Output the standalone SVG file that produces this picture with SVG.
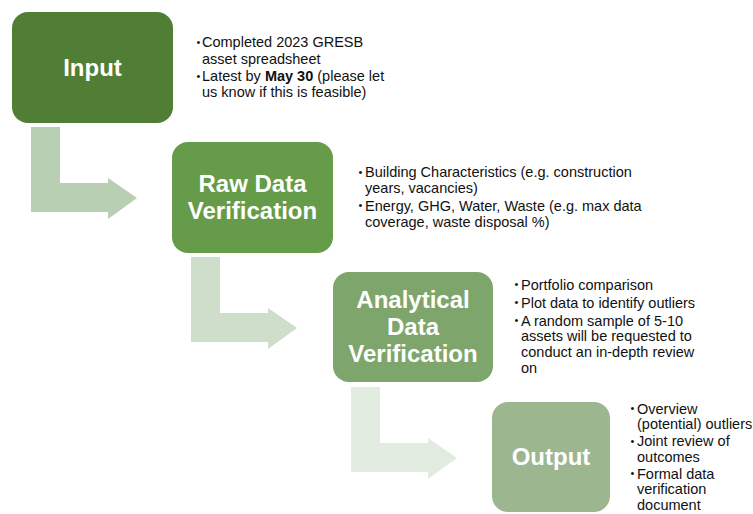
<svg xmlns="http://www.w3.org/2000/svg" width="753" height="514" viewBox="0 0 753 514">
<style>
.box-label{font-family:"Liberation Sans",Arial,sans-serif;font-size:24px;font-weight:bold;fill:#ffffff;text-anchor:middle}
.bullets{font-family:"Liberation Sans",Arial,sans-serif;font-size:14.5px;fill:#111111}
.dot{font-size:11px}
.b{font-weight:bold}
</style>
<rect width="753" height="514" fill="#ffffff"/>
<g id="connectors">
<path id="arrow1" d="M31,127 H60 V183 H108 V178 L137,198 L108,219 V212 H31 Z" fill="#B9CFB4"/>
<path id="arrow2" d="M191,257 H220 V313 H268 V308 L297,328 L268,349 V342 H191 Z" fill="#CEDECA"/>
<path id="arrow3" d="M351,387 H380 V443 H428 V438 L457,458 L428,479 V472 H351 Z" fill="#E2EBDF"/>
</g>
<g id="node-input">
<rect x="12" y="12" width="161" height="111" rx="16" fill="#507E34"/>
<text class="box-label" x="92.5" y="76">Input</text>
</g>
<g id="node-input-notes" class="bullets">
<text class="dot" x="196.5" y="45.5">•</text><text x="202" y="47">Completed 2023 GRESB</text>
<text x="202" y="63.5">asset spreadsheet</text>
<text class="dot" x="196.5" y="79.5">•</text><text x="202" y="81">Latest by <tspan class="b">May 30</tspan> (please let</text>
<text x="202" y="97">us know if this is feasible)</text>
</g>
<g id="node-raw">
<rect x="172" y="142" width="161" height="111" rx="16" fill="#659B49"/>
<text class="box-label" x="252.5" y="192">Raw Data</text>
<text class="box-label" x="252.5" y="219">Verification</text>
</g>
<g id="node-raw-notes" class="bullets">
<text class="dot" x="358.5" y="175.5">•</text><text x="365" y="177">Building Characteristics (e.g. construction</text>
<text x="365" y="193">years, vacancies)</text>
<text class="dot" x="358.5" y="209">•</text><text x="365" y="210.5">Energy, GHG, Water, Waste (e.g. max data</text>
<text x="365" y="226.5">coverage, waste disposal %)</text>
</g>
<g id="node-analytical">
<rect x="333" y="272" width="160" height="110" rx="16" fill="#7EA56B"/>
<text class="box-label" x="413" y="307.5">Analytical</text>
<text class="box-label" x="413" y="334.5">Data</text>
<text class="box-label" x="413" y="361.5">Verification</text>
</g>
<g id="node-analytical-notes" class="bullets">
<text class="dot" x="514.5" y="288">•</text><text x="521" y="289.5">Portfolio comparison</text>
<text class="dot" x="514.5" y="306">•</text><text x="521" y="307.5">Plot data to identify outliers</text>
<text class="dot" x="514.5" y="324">•</text><text x="521" y="325.5">A random sample of 5-10</text>
<text x="521" y="341">assets will be requested to</text>
<text x="521" y="357">conduct an in-depth review</text>
<text x="521" y="372.5">on</text>
</g>
<g id="node-output">
<rect x="492" y="402" width="118" height="110" rx="16" fill="#9CB790"/>
<text class="box-label" x="551" y="464.5">Output</text>
</g>
<g id="node-output-notes" class="bullets">
<text class="dot" x="630.5" y="412">•</text><text x="637" y="413.5">Overview</text>
<text x="637" y="429">(potential) outliers</text>
<text class="dot" x="630.5" y="444.5">•</text><text x="637" y="446">Joint review of</text>
<text x="637" y="461.5">outcomes</text>
<text class="dot" x="630.5" y="477">•</text><text x="637" y="478.5">Formal data</text>
<text x="637" y="494">verification</text>
<text x="637" y="509.5">document</text>
</g>
</svg>
